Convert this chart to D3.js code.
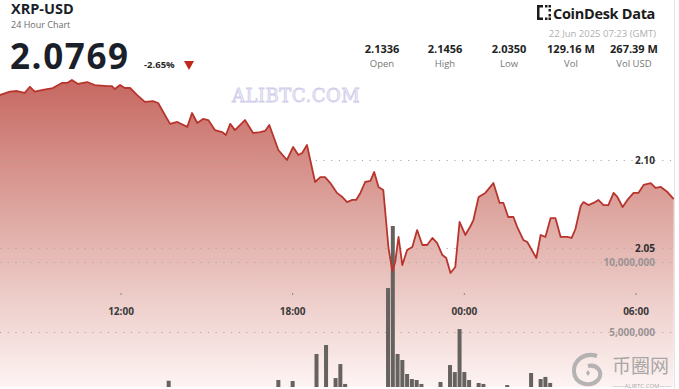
<!DOCTYPE html>
<html>
<head>
<meta charset="utf-8">
<script src="https://cdn.jsdelivr.net/npm/d3@7"></script>
<style>
  html, body { margin: 0; padding: 0; background: #fff; }
  svg { display: block; font-family: 'Open Sans', 'Noto Sans', sans-serif; }
</style>
</head>
<body>
<div id="chart"></div>
<script>
// ─── Data ────────────────────────────────────────────────────────────────
const priceTimes = [
  '2025-06-21T07:46', '2025-06-21T08:07', '2025-06-21T08:22', '2025-06-21T08:38', '2025-06-21T08:49',
  '2025-06-21T08:59', '2025-06-21T09:16', '2025-06-21T09:37', '2025-06-21T09:56', '2025-06-21T10:07',
  '2025-06-21T10:17', '2025-06-21T10:30', '2025-06-21T10:49', '2025-06-21T11:05', '2025-06-21T11:31',
  '2025-06-21T11:41', '2025-06-21T11:47', '2025-06-21T11:58', '2025-06-21T12:08', '2025-06-21T12:19',
  '2025-06-21T12:34', '2025-06-21T12:50', '2025-06-21T13:07', '2025-06-21T13:18', '2025-06-21T13:32',
  '2025-06-21T13:43', '2025-06-21T13:58', '2025-06-21T14:19', '2025-06-21T14:29', '2025-06-21T14:40',
  '2025-06-21T14:52', '2025-06-21T15:03', '2025-06-21T15:17', '2025-06-21T15:32', '2025-06-21T15:40',
  '2025-06-21T15:49', '2025-06-21T15:59', '2025-06-21T16:20', '2025-06-21T16:37', '2025-06-21T16:52',
  '2025-06-21T17:02', '2025-06-21T17:11', '2025-06-21T17:30', '2025-06-21T17:48', '2025-06-21T18:01',
  '2025-06-21T18:12', '2025-06-21T18:20', '2025-06-21T18:30', '2025-06-21T18:47', '2025-06-21T18:58',
  '2025-06-21T19:08', '2025-06-21T19:19', '2025-06-21T19:33', '2025-06-21T19:44', '2025-06-21T19:54',
  '2025-06-21T20:05', '2025-06-21T20:13', '2025-06-21T20:22', '2025-06-21T20:32', '2025-06-21T20:43',
  '2025-06-21T20:51', '2025-06-21T21:00', '2025-06-21T21:10', '2025-06-21T21:21', '2025-06-21T21:29',
  '2025-06-21T21:35', '2025-06-21T21:42', '2025-06-21T21:50', '2025-06-21T22:00', '2025-06-21T22:11',
  '2025-06-21T22:21', '2025-06-21T22:32', '2025-06-21T22:42', '2025-06-21T22:53', '2025-06-21T23:03',
  '2025-06-21T23:14', '2025-06-21T23:22', '2025-06-21T23:31', '2025-06-21T23:41', '2025-06-21T23:50',
  '2025-06-22T00:02', '2025-06-22T00:13', '2025-06-22T00:19', '2025-06-22T00:30', '2025-06-22T00:44',
  '2025-06-22T01:01', '2025-06-22T01:14', '2025-06-22T01:22', '2025-06-22T01:32', '2025-06-22T01:43',
  '2025-06-22T01:51', '2025-06-22T02:04', '2025-06-22T02:12', '2025-06-22T02:31', '2025-06-22T02:40',
  '2025-06-22T02:50', '2025-06-22T03:01', '2025-06-22T03:11', '2025-06-22T03:22', '2025-06-22T03:36',
  '2025-06-22T03:45', '2025-06-22T03:53', '2025-06-22T04:04', '2025-06-22T04:10', '2025-06-22T04:20',
  '2025-06-22T04:31', '2025-06-22T04:41', '2025-06-22T04:52', '2025-06-22T05:02', '2025-06-22T05:13',
  '2025-06-22T05:21', '2025-06-22T05:32', '2025-06-22T05:42', '2025-06-22T05:55', '2025-06-22T06:05',
  '2025-06-22T06:16', '2025-06-22T06:31', '2025-06-22T06:41', '2025-06-22T06:52', '2025-06-22T07:06',
  '2025-06-22T07:19'
];
const priceValues = [
  2.1369, 2.1388, 2.1392, 2.1381, 2.1416, 2.1388, 2.1398, 2.1409, 2.1438, 2.1438,
  2.1455, 2.1432, 2.1443, 2.1426, 2.1420, 2.1420, 2.1403, 2.1426, 2.1409, 2.1409,
  2.1369, 2.1330, 2.1335, 2.1324, 2.1256, 2.1205, 2.1216, 2.1188, 2.1267, 2.1210,
  2.1233, 2.1227, 2.1170, 2.1159, 2.1142, 2.1205, 2.1170, 2.1227, 2.1153, 2.1159,
  2.1165, 2.1199, 2.1057, 2.1000, 2.1074, 2.1028, 2.1040, 2.1085, 2.0875, 2.0903,
  2.0903, 2.0869, 2.0813, 2.0790, 2.0761, 2.0773, 2.0773, 2.0813, 2.0875, 2.0881,
  2.0932, 2.0847, 2.0830, 2.0500, 2.0369, 2.0420, 2.0563, 2.0403, 2.0489, 2.0506,
  2.0602, 2.0517, 2.0517, 2.0557, 2.0528, 2.0460, 2.0443, 2.0358, 2.0392, 2.0648,
  2.0574, 2.0625, 2.0659, 2.0790, 2.0813, 2.0869, 2.0756, 2.0756, 2.0676, 2.0676,
  2.0619, 2.0545, 2.0534, 2.0443, 2.0574, 2.0563, 2.0670, 2.0670, 2.0563, 2.0563,
  2.0557, 2.0608, 2.0739, 2.0761, 2.0744, 2.0756, 2.0773, 2.0744, 2.0744, 2.0813,
  2.0790, 2.0733, 2.0773, 2.0813, 2.0813, 2.0858, 2.0869, 2.0841, 2.0847, 2.0818,
  2.0778
];

const volumeTimes = [
  '2025-06-21T13:40', '2025-06-21T17:30', '2025-06-21T18:00', '2025-06-21T18:50', '2025-06-21T19:10',
  '2025-06-21T19:30', '2025-06-21T19:40', '2025-06-21T19:50', '2025-06-21T21:20', '2025-06-21T21:30',
  '2025-06-21T21:40', '2025-06-21T21:50', '2025-06-21T22:00', '2025-06-21T22:10', '2025-06-21T22:20',
  '2025-06-21T22:30', '2025-06-21T23:10', '2025-06-21T23:30', '2025-06-21T23:40', '2025-06-21T23:50',
  '2025-06-22T00:00', '2025-06-22T00:10', '2025-06-22T00:30', '2025-06-22T00:40', '2025-06-22T01:30',
  '2025-06-22T02:20', '2025-06-22T02:40', '2025-06-22T02:50', '2025-06-22T03:00'
];
const volumeValues = [
  1.52e6, 1.57e6, 1.50e6, 3.43e6, 4.07e6, 1.71e6, 2.71e6, 1.29e6, 8.14e6, 12.57e6,
  3.43e6, 3.00e6, 2.00e6, 1.64e6, 1.57e6, 1.29e6, 1.43e6, 2.64e6, 2.14e6, 5.21e6,
  2.14e6, 1.57e6, 1.36e6, 1.29e6, 1.21e6, 2.07e6, 1.64e6, 1.79e6, 1.36e6
];

const timeTicks = ['2025-06-21T12:00', '2025-06-21T18:00', '2025-06-22T00:00', '2025-06-22T06:00'];
const priceTicks = [2.05, 2.10];
const volumeTicks = [5e6, 10e6];

const statValues = ['2.1336', '2.1456', '2.0350', '129.16 M', '267.39 M'];
const statLabels = ['Open', 'High', 'Low', 'Vol', 'Vol USD'];

// ─── Setup ───────────────────────────────────────────────────────────────
const W = 679, H = 389;
const plotRight = 674, plotBottom = 387;
const parse = d3.utcParse('%Y-%m-%dT%H:%M');

const prices = priceTimes.map((t, i) => ({ t: parse(t), v: priceValues[i] }));
const volumes = volumeTimes.map((t, i) => ({ t: parse(t), v: volumeValues[i] }));

const x = d3.scaleUtc()
  .domain([parse('2025-06-21T12:00'), parse('2025-06-22T06:00')])
  .range([121, 636]);
const y = d3.scaleLinear().domain([2.05, 2.10]).range([248, 160]);
const yVol = d3.scaleLinear().domain([0, 10e6]).range([402, 262]);

const svg = d3.select('#chart').append('svg')
  .attr('width', W).attr('height', H);

const defs = svg.append('defs');
const grad = defs.append('linearGradient')
  .attr('id', 'areaGrad').attr('gradientUnits', 'userSpaceOnUse')
  .attr('x1', 0).attr('x2', 0).attr('y1', 80).attr('y2', plotBottom);
grad.append('stop').attr('offset', 0).attr('stop-color', '#c66861');
grad.append('stop').attr('offset', 0.45).attr('stop-color', '#dfa9a3');
grad.append('stop').attr('offset', 1).attr('stop-color', '#fdf4f3');

defs.append('clipPath').attr('id', 'plotClip')
  .append('rect').attr('x', 0).attr('y', 0).attr('width', plotRight).attr('height', plotBottom);

// Right border
svg.append('line')
  .attr('x1', plotRight + 0.5).attr('x2', plotRight + 0.5)
  .attr('y1', 0).attr('y2', H)
  .attr('stroke', '#e4e4e4').attr('stroke-width', 1);

const plot = svg.append('g').attr('clip-path', 'url(#plotClip)');

// Area under the price line
const area = d3.area()
  .x(d => x(d.t)).y0(plotBottom).y1(d => y(d.v));
plot.append('path')
  .datum(prices)
  .attr('d', area)
  .attr('fill', 'url(#areaGrad)');

// Dotted gridlines
const gridY = [...priceTicks.map(v => y(v)), ...volumeTicks.map(v => yVol(v))];
plot.selectAll('.grid')
  .data(gridY)
  .join('line')
  .attr('class', 'grid')
  .attr('x1', 0).attr('x2', plotRight)
  .attr('y1', d => Math.round(d) + 0.5).attr('y2', d => Math.round(d) + 0.5)
  .attr('stroke', '#b3a4a4').attr('stroke-width', 1)
  .attr('stroke-dasharray', '1.2,6.5');

// Volume bars
plot.selectAll('.bar')
  .data(volumes)
  .join('rect')
  .attr('class', 'bar')
  .attr('x', d => x(d.t) - 2)
  .attr('width', 4)
  .attr('y', d => yVol(d.v))
  .attr('height', d => yVol(0) - yVol(d.v))
  .attr('fill', '#66625f');

// Price line
const line = d3.line().x(d => x(d.t)).y(d => y(d.v));
plot.append('path')
  .datum(prices)
  .attr('d', line)
  .attr('fill', 'none')
  .attr('stroke', '#b8352d')
  .attr('stroke-width', 1.8)
  .attr('stroke-linejoin', 'round');

// Time axis labels + tiny tick marks
const tickDates = timeTicks.map(parse);
svg.selectAll('.tmark')
  .data(tickDates)
  .join('line')
  .attr('class', 'tmark')
  .attr('x1', d => x(d)).attr('x2', d => x(d))
  .attr('y1', 293).attr('y2', 295)
  .attr('stroke', '#888').attr('stroke-width', 1);
svg.selectAll('.tlabel')
  .data(tickDates)
  .join('text')
  .attr('class', 'tlabel')
  .attr('x', d => x(d)).attr('y', 315)
  .attr('text-anchor', 'middle')
  .attr('fill', '#3a3a3a').attr('font-size', 10).attr('font-weight', 700)
  .text(d3.utcFormat('%H:%M'));

// Price / volume axis labels
svg.selectAll('.plabel')
  .data(priceTicks)
  .join('text')
  .attr('class', 'plabel')
  .attr('x', 655).attr('y', d => y(d) + 3.5)
  .attr('text-anchor', 'end')
  .attr('fill', '#2e2e2e').attr('font-size', 10).attr('font-weight', 700)
  .text(d => d.toFixed(2));
svg.selectAll('.vlabel')
  .data(volumeTicks)
  .join('text')
  .attr('class', 'vlabel')
  .attr('x', 655).attr('y', d => yVol(d) + 3.5)
  .attr('text-anchor', 'end')
  .attr('fill', '#9a9393').attr('font-size', 10).attr('font-weight', 700)
  .text(d => d3.format(',')(d));

// ─── Header ──────────────────────────────────────────────────────────────
svg.append('text')
  .attr('x', 11).attr('y', 14)
  .attr('fill', '#1b1f2a').attr('font-size', 14.5).attr('font-weight', 700)
  .text('XRP-USD');
svg.append('text')
  .attr('x', 11).attr('y', 27.5)
  .attr('fill', '#6b6b6b').attr('font-size', 9)
  .text('24 Hour Chart');
svg.append('text')
  .attr('x', 10).attr('y', 68.5)
  .attr('fill', '#1b1f2a').attr('font-size', 35).attr('font-weight', 700)
  .attr('letter-spacing', 1.6)
  .text('2.0769');
svg.append('text')
  .attr('x', 144).attr('y', 68)
  .attr('fill', '#2a2a2a').attr('font-size', 9.5).attr('font-weight', 700)
  .text('-2.65%');
svg.append('path')
  .attr('d', 'M184,61 L194,61 L189,70 Z')
  .attr('fill', '#c0271d');

// CoinDesk logo
const logo = svg.append('g').attr('transform', 'translate(537,5)');
logo.append('path')
  .attr('d', 'M0,0 H6 V2.5 H2.5 V12.5 H6 V15 H0 Z')
  .attr('fill', '#1b1b1b');
[[8, 0], [11.5, 0], [11.5, 4], [11.5, 9], [8, 12.5], [11.5, 12.5]].forEach(([dx, dy]) => {
  logo.append('rect').attr('x', dx).attr('y', dy).attr('width', 2.5).attr('height', 2.5).attr('fill', '#1b1b1b');
});
svg.append('text')
  .attr('x', 553).attr('y', 19)
  .attr('fill', '#1b1b1b').attr('font-size', 14.5).attr('font-weight', 700)
  .attr('letter-spacing', -0.3)
  .text('CoinDesk Data');
svg.append('text')
  .attr('x', 656).attr('y', 37)
  .attr('text-anchor', 'end')
  .attr('fill', '#b0b0b0').attr('font-size', 9.5)
  .text('22 Jun 2025 07:23 (GMT)');

// Stats row
const statX = [382, 445, 509, 571, 634];
svg.selectAll('.stat')
  .data(statValues)
  .join('text')
  .attr('class', 'stat')
  .attr('x', (d, i) => statX[i]).attr('y', 53)
  .attr('text-anchor', 'middle')
  .attr('fill', '#222').attr('font-size', 11).attr('font-weight', 700)
  .text(d => d);
svg.selectAll('.statlbl')
  .data(statLabels)
  .join('text')
  .attr('class', 'statlbl')
  .attr('x', (d, i) => statX[i]).attr('y', 67)
  .attr('text-anchor', 'middle')
  .attr('fill', '#777').attr('font-size', 9.5)
  .text(d => d);

// ─── Watermarks ──────────────────────────────────────────────────────────
svg.append('text')
  .attr('x', 232).attr('y', 102)
  .attr('fill', '#f1f0fa').attr('stroke', '#cfcdea').attr('stroke-width', 0.8)
  .attr('font-family', "'DejaVu Serif', 'Liberation Serif', serif")
  .attr('font-size', 18).attr('letter-spacing', 0.5)
  .text('ALIBTC.COM');

const wm = svg.append('g').attr('opacity', 0.85);
wm.append('path')
  .attr('d', 'M597,356 C585,352 573,360 574,372 C575,384 590,388 598,380 C604,372 597,364 588,366')
  .attr('fill', 'none').attr('stroke', '#a9a9a9').attr('stroke-width', 4);
wm.append('path')
  .attr('d', 'M588,370 L590,373 L588,376 L586,373 Z')
  .attr('fill', '#a9a9a9');
wm.append('text')
  .attr('x', 612).attr('y', 373)
  .attr('fill', '#9c9c9c').attr('font-size', 19)
  .attr('font-family', "'Noto Sans CJK SC', sans-serif")
  .text('币圈网');
wm.append('text')
  .attr('x', 642).attr('y', 388)
  .attr('text-anchor', 'middle')
  .attr('fill', '#9c9c9c').attr('font-size', 6)
  .text('——ALIBTC.COM——');
</script>
</body>
</html>
